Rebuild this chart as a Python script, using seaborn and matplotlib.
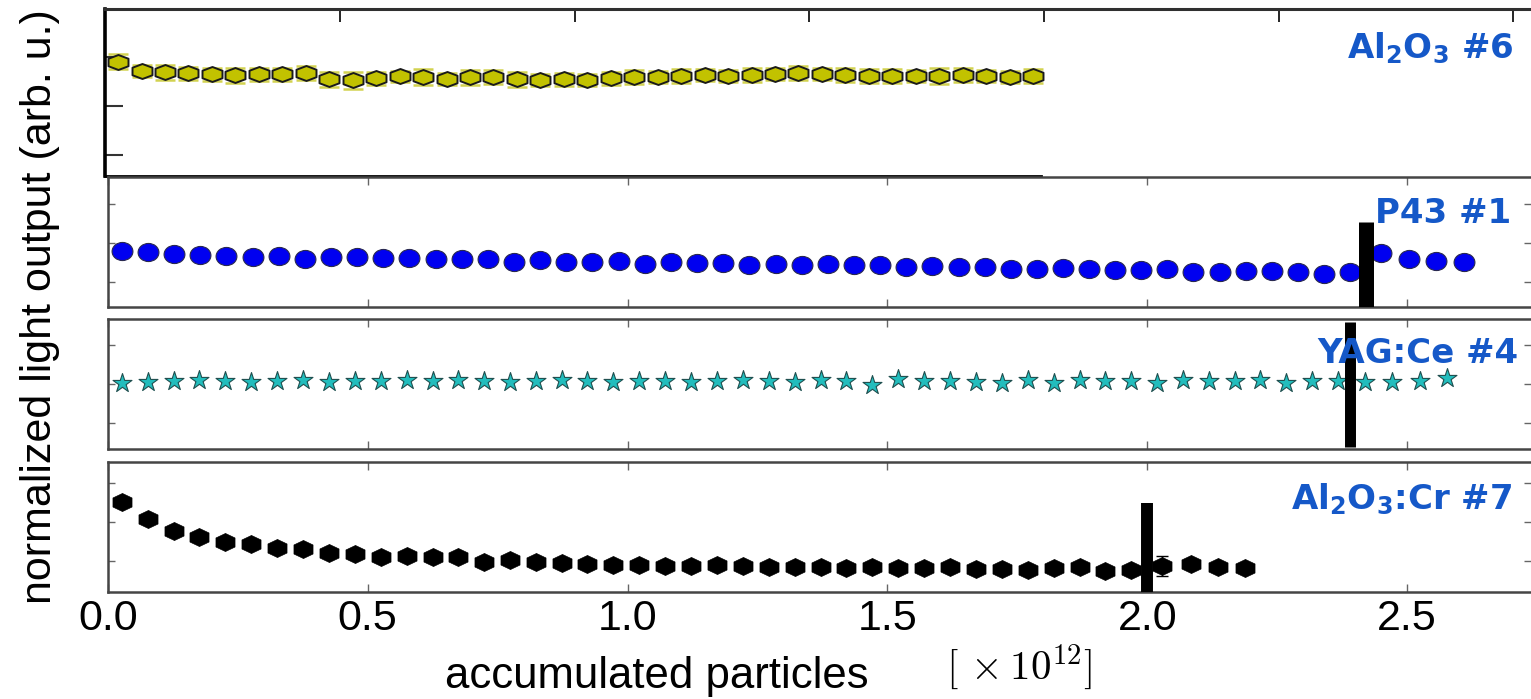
import matplotlib
matplotlib.use("Agg")
import matplotlib.pyplot as plt
import seaborn as sns
import numpy as np
import pandas as pd
from matplotlib.path import Path
from matplotlib.transforms import Affine2D

# ---------------- data ----------------
al6_x = [0.027, 0.077, 0.127, 0.177, 0.227, 0.277, 0.327, 0.377, 0.427, 0.477,
         0.527, 0.577, 0.627, 0.677, 0.727, 0.777, 0.827, 0.877, 0.927, 0.977,
         1.027, 1.077, 1.127, 1.177, 1.227, 1.277, 1.327, 1.377, 1.427, 1.477,
         1.527, 1.577, 1.627, 1.677, 1.727, 1.777, 1.827, 1.877, 1.927, 1.977]
al6_y = [0.991, 0.972, 0.969, 0.967, 0.965, 0.963, 0.965, 0.965, 0.968, 0.955,
         0.953, 0.957, 0.961, 0.960, 0.955, 0.959, 0.960, 0.955, 0.953, 0.955,
         0.953, 0.957, 0.960, 0.960, 0.962, 0.964, 0.962, 0.964, 0.966, 0.968,
         0.966, 0.964, 0.962, 0.962, 0.962, 0.962, 0.964, 0.962, 0.960, 0.962]
al6_err = [0.015, 0.013, 0.016, 0.014, 0.014, 0.015, 0.013, 0.014, 0.015, 0.016,
           0.017, 0.013, 0.012, 0.017, 0.012, 0.015, 0.015, 0.016, 0.012, 0.013,
           0.012, 0.013, 0.014, 0.013, 0.014, 0.012, 0.013, 0.014, 0.013, 0.014,
           0.013, 0.014, 0.015, 0.014, 0.013, 0.016, 0.014, 0.013, 0.012, 0.015]

p43_x = [0.027, 0.077, 0.128, 0.178, 0.228, 0.279, 0.329, 0.379, 0.429, 0.480,
         0.530, 0.580, 0.631, 0.681, 0.731, 0.782, 0.832, 0.882, 0.932, 0.983,
         1.033, 1.083, 1.134, 1.184, 1.234, 1.285, 1.335, 1.385, 1.435, 1.486,
         1.536, 1.586, 1.637, 1.687, 1.737, 1.788, 1.838, 1.888, 1.938, 1.989,
         2.039, 2.089, 2.140, 2.190, 2.240, 2.291, 2.341, 2.391,
         2.450, 2.504, 2.556, 2.610]
p43_y = [0.980, 0.976, 0.971, 0.969, 0.967, 0.963, 0.967, 0.958, 0.963, 0.963,
         0.962, 0.962, 0.960, 0.958, 0.958, 0.952, 0.956, 0.952, 0.951, 0.954,
         0.946, 0.951, 0.949, 0.949, 0.944, 0.946, 0.944, 0.946, 0.944, 0.944,
         0.938, 0.941, 0.938, 0.938, 0.933, 0.933, 0.935, 0.933, 0.931, 0.931,
         0.933, 0.925, 0.926, 0.928, 0.928, 0.926, 0.921, 0.926,
         0.975, 0.958, 0.955, 0.951]

yag_x = [0.027, 0.077, 0.127, 0.176, 0.226, 0.276, 0.326, 0.376, 0.425, 0.475,
         0.525, 0.575, 0.625, 0.674, 0.724, 0.774, 0.824, 0.874, 0.923, 0.973,
         1.023, 1.073, 1.123, 1.172, 1.222, 1.272, 1.322, 1.372, 1.421, 1.471,
         1.521, 1.571, 1.621, 1.670, 1.720, 1.770, 1.820, 1.870, 1.919, 1.969,
         2.019, 2.069, 2.119, 2.168, 2.218, 2.268, 2.318, 2.368, 2.420, 2.472,
         2.524, 2.577]
yag_y = [1.003, 1.006, 1.008, 1.011, 1.008, 1.006, 1.008, 1.011, 1.006, 1.008,
         1.008, 1.011, 1.008, 1.011, 1.008, 1.006, 1.008, 1.011, 1.008, 1.006,
         1.008, 1.008, 1.006, 1.008, 1.011, 1.008, 1.006, 1.011, 1.008, 0.998,
         1.014, 1.008, 1.008, 1.006, 1.003, 1.011, 1.003, 1.011, 1.008, 1.007,
         1.003, 1.011, 1.007, 1.009, 1.011, 1.003, 1.009, 1.009, 1.005, 1.005,
         1.009, 1.015]

cr_x = [0.027, 0.077, 0.127, 0.176, 0.226, 0.276, 0.326, 0.376, 0.425, 0.475,
        0.525, 0.575, 0.625, 0.674, 0.724, 0.774, 0.824, 0.874, 0.923, 0.973,
        1.023, 1.073, 1.123, 1.172, 1.222, 1.272, 1.322, 1.372, 1.421, 1.471,
        1.521, 1.571, 1.621, 1.670, 1.720, 1.770, 1.820, 1.870, 1.919, 1.969,
        2.028, 2.084, 2.136, 2.188]
cr_y = [1.053, 1.008, 0.978, 0.963, 0.950, 0.944, 0.935, 0.932, 0.921, 0.919,
        0.912, 0.914, 0.912, 0.910, 0.899, 0.902, 0.897, 0.895, 0.893, 0.891,
        0.891, 0.888, 0.888, 0.891, 0.888, 0.885, 0.885, 0.885, 0.883, 0.885,
        0.882, 0.882, 0.884, 0.880, 0.880, 0.878, 0.882, 0.884, 0.875, 0.878,
        0.888, 0.893, 0.886, 0.882]
cr_err = [0.006] * 40 + [0.026, 0.006, 0.006, 0.006]

# beam-interruption markers (x position, bar ends)
p43_bar = (2.421, 1.054)
yag_bar = (2.390, 0.839, 1.160)
cr_bar = (2.000, 1.049)

labels = [r"$\mathbf{Al_2O_3}$ #6", "P43 #1", "YAG:Ce #4", r"$\mathbf{Al_2O_3}$:Cr #7"]
xticks = [0.0, 0.5, 1.0, 1.5, 2.0, 2.5]
xtick_labels = ["0.0", "0.5", "1.0", "1.5", "2.0", "2.5"]

# ---------------- style ----------------
sns.set_style("white")
plt.rcParams["font.family"] = ["Liberation Sans", "DejaVu Sans"]

W, H = 1531, 699
fig = plt.figure(figsize=(W / 100, H / 100), dpi=100)


def box(l, r, t, b):
    return [l / W, 1 - b / H, (r - l) / W, (b - t) / H]


ax1 = fig.add_axes(box(105.4, 1531, 9.3, 176))
ax2 = fig.add_axes(box(107.8, 1531, 177, 307))
ax3 = fig.add_axes(box(107.8, 1531, 319, 449))
ax4 = fig.add_axes(box(107.8, 1531, 462, 592))

blue = "#1558c8"
spine_c = "#454545"


def hexagon(yscale):
    ang = np.deg2rad(90 + 60 * np.arange(6))
    verts = np.column_stack([np.cos(ang), np.sin(ang) * yscale])
    return Path(np.vstack([verts, verts[:1]]), closed=True)


hex_flat = hexagon(0.65)
hex_cr = hexagon(0.82)

# ---- panel 1 ----
ax1.errorbar(al6_x, al6_y, yerr=al6_err, fmt="none", ecolor="#d2d250",
             elinewidth=1.6, capsize=7.2, capthick=1.8, zorder=1)
sns.scatterplot(x=al6_x, y=al6_y, ax=ax1, marker=hex_flat, s=207, color="#c2c200",
                edgecolor="#1a1a1a", linewidth=1.4, zorder=3, legend=False)
ax1.set_xlim(0, 3.038)
ax1.set_ylim(0.756, 1.099)
ax1.set_xticks([0.5, 1.0, 1.5, 2.0, 2.5, 3.0])
ax1.set_yticks([0.8, 0.9, 1.0])
ax1.tick_params(axis="x", direction="in", top=True, bottom=False, length=9,
                width=1.2, color="black", labelbottom=False, labeltop=False)
ax1.tick_params(axis="y", direction="in", left=True, right=False, length=13,
                width=1.5, color="#333333", labelleft=False)
ax1.spines["right"].set_visible(False)
ax1.spines["left"].set_linewidth(2.6)
ax1.spines["left"].set_color("black")
ax1.spines["top"].set_linewidth(2.2)
ax1.spines["top"].set_color("#303030")
ax1.spines["bottom"].set_linewidth(2.0)
ax1.spines["bottom"].set_color("black")
ax1.spines["bottom"].set_bounds(0, 1.994)

# ---- panel 2 ----
ell = Path.unit_circle().transformed(Affine2D().scale(1.15, 1.0))
sns.scatterplot(x=p43_x, y=p43_y, ax=ax2, marker=ell, s=225, color="#0000f0",
                edgecolor="#2a2a50", linewidth=0.8, zorder=3, legend=False)
ax2.set_ylim(0.836, 1.169)
ax2.set_yticks([0.9, 1.0, 1.1])
ax2.vlines(p43_bar[0], ax2.get_ylim()[0], p43_bar[1], colors="black",
           linewidth=10.8, zorder=4)

# ---- panel 3 ----
sns.scatterplot(x=yag_x, y=yag_y, ax=ax3, marker="*", s=205, color="#22bdbd",
                edgecolor="#1f4f4f", linewidth=0.8, zorder=3, legend=False)
ax3.set_ylim(0.834, 1.167)
ax3.set_yticks([0.9, 1.0, 1.1])
ax3.vlines(yag_bar[0], yag_bar[1], yag_bar[2], colors="black",
           linewidth=7.9, zorder=4)

# ---- panel 4 ----
ax4.errorbar(cr_x, cr_y, yerr=cr_err, fmt="none", ecolor="black",
             elinewidth=1.0, capsize=4.3, capthick=1.0, zorder=2)
sns.scatterplot(x=cr_x, y=cr_y, ax=ax4, marker=hex_cr, s=188, color="black",
                edgecolor="black", linewidth=0.5, zorder=3, legend=False)
ax4.set_ylim(0.821, 1.155)
ax4.set_yticks([0.9, 1.0, 1.1])
ax4.vlines(cr_bar[0], ax4.get_ylim()[0], cr_bar[1], colors="black",
           linewidth=8.6, zorder=4)

for ax in (ax2, ax3, ax4):
    ax.set_xlim(0, 2.7385)
    ax.set_xticks(xticks)
    ax.tick_params(axis="x", direction="in", top=True, bottom=True, length=6,
                   width=1.0, color="#666666", labelbottom=False, labelsize=31,
                   pad=5)
    ax.tick_params(axis="y", direction="in", left=True, right=True, length=5,
                   width=1.0, color="#666666", labelleft=False)
    ax.spines["right"].set_visible(False)
    for s in ("left", "top", "bottom"):
        ax.spines[s].set_linewidth(1.8)
        ax.spines[s].set_color(spine_c)

ax4.set_xticklabels(xtick_labels)
ax4.tick_params(axis="x", labelbottom=True, labelcolor="black")

for ax in (ax1, ax2, ax3, ax4):
    ax.set_xlabel("")
    ax.set_ylabel("")
    ax.patch.set_alpha(0)

# ---- panel labels ----
lab_pos = [(ax1, 0.988, 0.708), (ax2, 0.986, 0.646), (ax3, 0.991, 0.662),
           (ax4, 0.987, 0.638)]
for (ax, lx, ly), txt in zip(lab_pos, labels):
    ax.text(lx, ly, txt, transform=ax.transAxes, ha="right", va="baseline",
            fontsize=24.5, fontweight="bold", color=blue,
            family="DejaVu Sans", math_fontfamily="dejavusans", zorder=5)

# ---- axis titles ----
fig.text(0.026, 1 - 307 / H, "normalized light output (arb. u.)", rotation=90,
         ha="center", va="center", fontsize=31, color="black")
fig.text(445 / W, 1 - 688 / H, "accumulated particles", ha="left",
         va="baseline", fontsize=31.5, color="black")
fig.text(946 / W, 1 - 680 / H, r"$[\,\times 10^{12}]$", ha="left",
         va="baseline", fontsize=29.5, color="black", math_fontfamily="cm")

fig.savefig("out.png", dpi=100)
